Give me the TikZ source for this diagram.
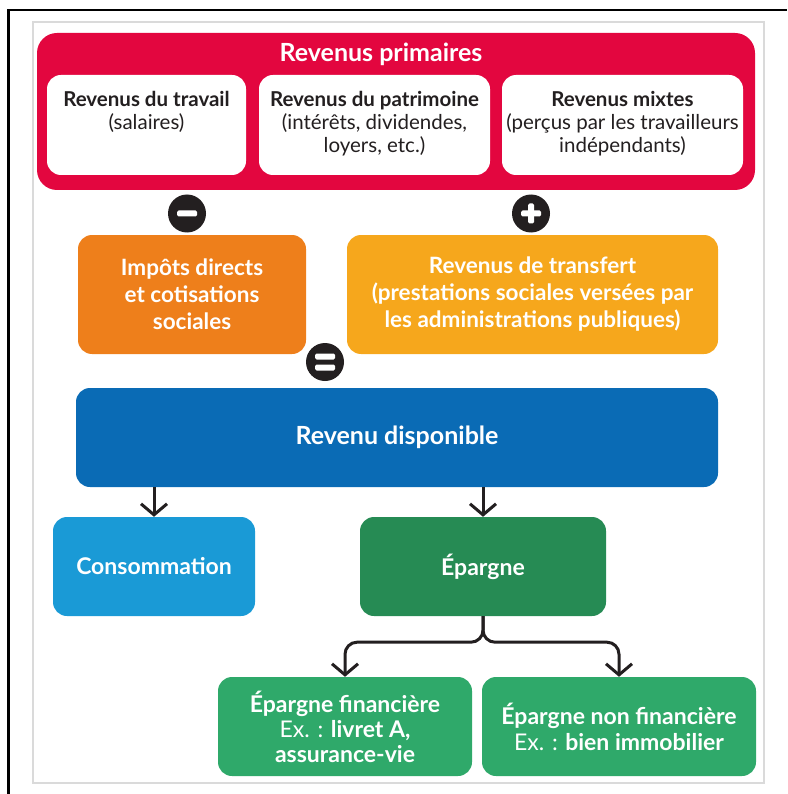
\documentclass[tikz,border=0pt]{standalone}
\usepackage{fontspec}
\setmainfont{Lato}
\usetikzlibrary{arrows.meta,positioning}

\definecolor{primred}{HTML}{E3063F}
\definecolor{impotorange}{HTML}{EE7F1B}
\definecolor{transfyellow}{HTML}{F6A71C}
\definecolor{dispoblue}{HTML}{0A6BB5}
\definecolor{consoblue}{HTML}{1A9AD6}
\definecolor{epargnegreen}{HTML}{268B54}
\definecolor{placegreen}{HTML}{2FA96A}
\definecolor{signblack}{HTML}{231F20}
\definecolor{framegray}{HTML}{DADADA}

\begin{document}
\begin{tikzpicture}[x=1pt,y=-1pt,>={Straight Barb[length=11pt,width=26pt]},
  box/.style={rounded corners=14pt,inner sep=0pt,align=center,text=white,
    font=\bfseries\fontsize{22.5}{27}\selectfont},
  whitebox/.style={fill=white,rounded corners=14pt,inner sep=0pt},
  boxtext/.style={inner sep=0pt,align=center,text=signblack,
    font=\fontsize{20.5}{23}\selectfont},
  sign/.style={circle,fill=signblack,minimum size=38pt,inner sep=0pt},
  minus/.style={sign,path picture={
    \fill[white,rounded corners=1.5pt] ([shift={(-10pt,-3pt)}]path picture bounding box.center) rectangle ++(20pt,6pt);}},
  plus/.style={sign,path picture={
    \fill[white,rounded corners=1.5pt] ([shift={(-10pt,-3pt)}]path picture bounding box.center) rectangle ++(20pt,6pt);
    \fill[white,rounded corners=1.5pt] ([shift={(-3pt,-10pt)}]path picture bounding box.center) rectangle ++(6pt,20pt);}},
  equals/.style={sign,path picture={
    \fill[white,rounded corners=1.5pt] ([shift={(-10pt,2.5pt)}]path picture bounding box.center) rectangle ++(20pt,6pt);
    \fill[white,rounded corners=1.5pt] ([shift={(-10pt,-8.5pt)}]path picture bounding box.center) rectangle ++(20pt,6pt);}},
  link/.style={->,line width=3pt,draw=signblack}]

  \useasboundingbox (0,0) rectangle (787,794);

  % Frame
  \draw[line width=2.5pt] (8.5,794) -- (8.5,10) -- (787,10);
  \draw[framegray,line width=1.5pt] (33,22) rectangle (764,783);

  % Red = primary incomes
  \node[box,fill=primred,minimum width=718pt,minimum height=157pt,rounded corners=20pt] (prim) at (396,111.5) {};
  \node[inner sep=0pt,text=white,font=\bfseries\fontsize{25}{28}\selectfont] (prim-title) at (381,54) {Revenus primaires};

  \node[whitebox,minimum width=199pt,minimum height=100pt] (travail) at (146.5,125) {};
  \node[boxtext,below=16pt of travail.north] (travail-txt) {\textbf{Revenus du travail}\\(salaires)};

  \node[whitebox,minimum width=231pt,minimum height=100pt] (patrimoine) at (374.5,125) {};
  \node[boxtext,below=16pt of patrimoine.north] (patrimoine-txt) {\textbf{Revenus du patrimoine}\\(intérêts, dividendes,\\loyers, etc.)};

  \node[whitebox,minimum width=241pt,minimum height=100pt] (mixtes) at (622.5,125) {};
  \node[boxtext,below=16pt of mixtes.north] (mixtes-txt) {\textbf{Revenus mixtes}\\(perçus par les travailleurs\\indépendants)};

  % Signs
  \node[minus] (moins) at (187,213.5) {};
  \node[plus] (plus) at (531,213.5) {};
  \node[equals] (egal) at (325,362) {};

  % Orange / yellow = taxes and transfers
  \node[box,fill=impotorange,minimum width=228pt,minimum height=119pt] (impots) at (192,294.5)
    {Impôts directs\\et cotisations\\sociales};
  \node[box,fill=transfyellow,minimum width=371pt,minimum height=119pt] (transfert) at (532.5,294.5)
    {Revenus de transfert\\(prestations sociales versées par\\les administrations publiques)};

  % Blue = disposable income
  \node[box,fill=dispoblue,minimum width=642pt,minimum height=99pt,font=\bfseries\fontsize{25}{28}\selectfont] (dispo) at (397,437.5)
    {Revenu disponible};

  \node[box,fill=consoblue,minimum width=202pt,minimum height=99pt,font=\bfseries\fontsize{23}{26}\selectfont] (conso) at (154,566.5)
    {Consommation};
  \node[box,fill=epargnegreen,minimum width=246pt,minimum height=99pt,font=\bfseries\fontsize{23}{26}\selectfont] (epargne) at (483,566.5)
    {Épargne};

  % Green = savings
  \node[box,fill=placegreen,minimum width=254pt,minimum height=99pt,font=\bfseries\fontsize{23}{25}\selectfont] (fin) at (345,726.5)
    {Épargne financière\\{\mdseries Ex. :} livret A,\\assurance-vie};
  \node[box,fill=placegreen,minimum width=274pt,minimum height=99pt,font=\bfseries\fontsize{23}{26}\selectfont] (nonfin) at (619,726.5)
    {Épargne non financière\\{\mdseries Ex. :} bien immobilier};

  % Arrows
  \draw[link] (dispo.south -| conso.north) -- (conso.north);
  \draw[link] (dispo.south -| epargne.north) -- (epargne.north);
  \draw[link,rounded corners=12pt] (epargne.south) -- ++(0,26) -| (fin.north);
  \draw[link,rounded corners=12pt] (epargne.south) -- ++(0,26) -| (nonfin.north);

\end{tikzpicture}
\end{document}
